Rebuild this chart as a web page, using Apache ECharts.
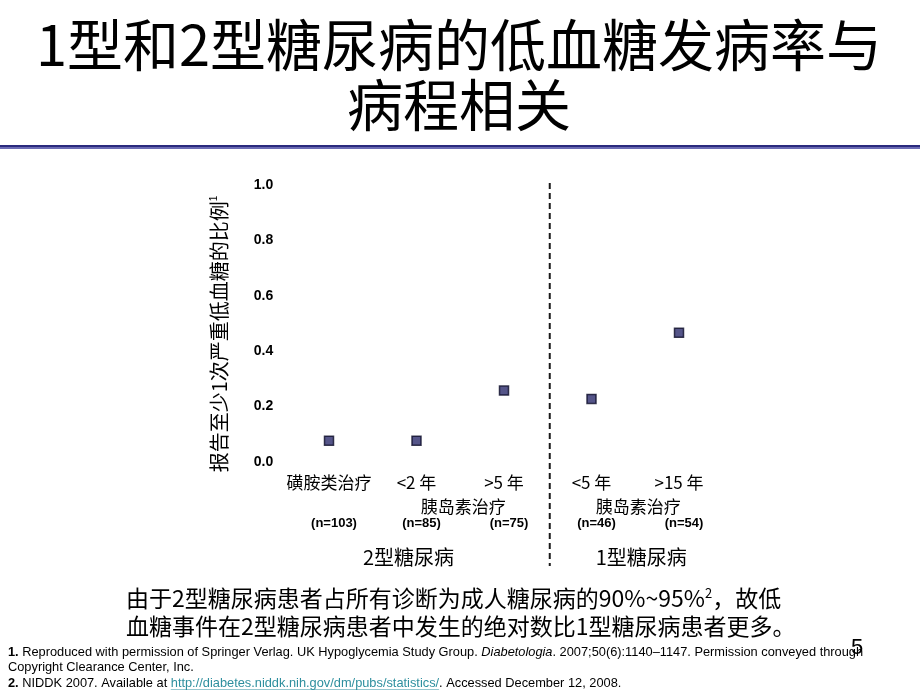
<!DOCTYPE html>
<html>
<head>
<meta charset="utf-8">
<script src="https://cdn.jsdelivr.net/npm/echarts@6/dist/echarts.min.js"></script>
<style>
html,body{margin:0;padding:0;background:#fff;}
#chart{width:920px;height:690px;}
</style>
</head>
<body>
<div id="chart"></div>
<script>
// ---- data ----
const categories = ['磺胺类治疗', '<2 年', '>5 年', '<5 年', '>15 年'];
const values = [0.076, 0.076, 0.257, 0.227, 0.466];
const sampleSizes = ['(n=103)', '(n=85)', '(n=75)', '(n=46)', '(n=54)'];
const treatmentLabels = ['胰岛素治疗', '胰岛素治疗'];
const treatmentSpans = [[1, 2], [3, 4]];
const typeLabels = ['2型糖尿病', '1型糖尿病'];
const typeSpans = [[0, 2], [3, 4]];
const dividerAfter = 2; // divider between category 2 and 3
const yAxisTitle = '报告至少1次严重低血糖的比例';

const CJK = '"Noto Sans CJK SC", "Noto Sans", sans-serif';
const LAT = '"Liberation Sans", Arial, sans-serif';

const chart = echarts.init(document.getElementById('chart'), null, {renderer: 'canvas'});

const option = {
  backgroundColor: '#ffffff',
  animation: false,
  title: {
    text: '1型和2型糖尿病的低血糖发病率与\n病程相关',
    left: 454,
    top: 10,
    textAlign: 'center',
    textStyle: {fontFamily: CJK, fontSize: 56, fontWeight: 'normal', color: '#000', lineHeight: 60}
  },
  grid: {left: 285.25, width: 437.5, top: 185, height: 276.7},
  xAxis: {
    type: 'category',
    data: categories,
    boundaryGap: true,
    axisLine: {show: false},
    axisTick: {show: false},
    splitLine: {show: false},
    axisLabel: {
      interval: 0,
      margin: 12,
      fontFamily: CJK, fontSize: 17, color: '#000'
    }
  },
  yAxis: {
    type: 'value',
    min: 0, max: 1, interval: 0.2,
    axisLine: {show: false},
    axisTick: {show: false},
    splitLine: {show: false},
    axisLabel: {
      margin: 12,
      formatter: v => v.toFixed(1),
      fontFamily: LAT, fontSize: 14, fontWeight: 'bold', color: '#000'
    }
  },
  series: [{
    type: 'scatter',
    data: values,
    symbol: 'rect',
    symbolSize: 9,
    itemStyle: {color: '#2a2a6c', borderColor: '#0c0c28', borderWidth: 1.5}
  }]
};
chart.setOption(option);

function px(i) { return chart.convertToPixel({xAxisIndex: 0}, i); }

const graphics = [];
// blue rule under title
graphics.push({type: 'rect', shape: {x: 0, y: 145, width: 920, height: 2}, style: {fill: '#2a2a7e'}});
graphics.push({type: 'rect', shape: {x: 0, y: 147, width: 920, height: 2}, style: {fill: '#6b6bb4'}});

// divider
const divX = (px(dividerAfter) + px(dividerAfter + 1)) / 2 + 2;
graphics.push({type: 'line', shape: {x1: divX, y1: 183, x2: divX, y2: 566},
  style: {stroke: '#1a1a1a', lineWidth: 2, lineDash: [6, 4]}});

// sample sizes
sampleSizes.forEach((s, i) => {
  graphics.push({type: 'text', x: px(i) + 5, y: 523, style: {text: s, font: 'bold 13px ' + LAT, fill: '#000', align: 'center', verticalAlign: 'middle'}});
});

// treatment labels
treatmentLabels.forEach((t, k) => {
  const cx = (px(treatmentSpans[k][0]) + px(treatmentSpans[k][1])) / 2 + 3;
  graphics.push({type: 'text', x: cx, y: 507, style: {text: t, font: '17px ' + CJK, fill: '#000', align: 'center', verticalAlign: 'middle'}});
});
// diabetes type labels
typeLabels.forEach((t, k) => {
  const cx = (px(typeSpans[k][0]) + px(typeSpans[k][1])) / 2 + (k === 0 ? -8 : 6);
  graphics.push({type: 'text', x: cx, y: 557, style: {text: t, font: '20px ' + CJK, fill: '#000', align: 'center', verticalAlign: 'middle'}});
});

// y axis title (rotated)
graphics.push({type: 'text', x: 219, y: 334, rotation: Math.PI / 2,
  style: {text: yAxisTitle + '{s|1}', font: '20px ' + CJK, fill: '#000', align: 'center', verticalAlign: 'middle',
    rich: {s: {fontSize: 10, fontFamily: LAT, fill: '#000', verticalAlign: 'top', padding: [0, 0, 9, 0]}}}});

// bottom statement
graphics.push({type: 'text', x: 126, y: 598,
  style: {text: '由于2型糖尿病患者占所有诊断为成人糖尿病的90%~95%{s|2}，故低', font: '23px ' + CJK, fill: '#000', verticalAlign: 'middle',
    rich: {s: {fontSize: 13, fontFamily: CJK, fill: '#000', verticalAlign: 'top', padding: [0, 0, 10, 0]}}}});
graphics.push({type: 'text', x: 126, y: 626,
  style: {text: '血糖事件在2型糖尿病患者中发生的绝对数比1型糖尿病患者更多。', font: '23px ' + CJK, fill: '#000', verticalAlign: 'middle'}});

// page number
graphics.push({type: 'text', x: 851, y: 648, style: {text: '5', font: '22px ' + LAT, fill: '#000', verticalAlign: 'middle'}});

// footnotes
const fnRich = {
  b: {fontWeight: 'bold', fontSize: 13, fontFamily: LAT, fill: '#000'},
  i: {fontStyle: 'italic', fontSize: 13, fontFamily: LAT, fill: '#000'},
  l: {fontSize: 13, fontFamily: LAT, fill: '#2e8f9e'}
};
const fnScale = 0.985;
graphics.push({type: 'text', x: 8, y: 652, scaleX: fnScale,
  style: {text: '{b|1.} Reproduced with permission of Springer Verlag. UK Hypoglycemia Study Group. {i|Diabetologia}. 2007;50(6):1140–1147. Permission conveyed through',
    font: '13px ' + LAT, fill: '#000', verticalAlign: 'middle', rich: fnRich}});
graphics.push({type: 'text', x: 8, y: 667, scaleX: fnScale,
  style: {text: 'Copyright Clearance Center, Inc.', font: '13px ' + LAT, fill: '#000', verticalAlign: 'middle'}});
const fn2 = {type: 'text', x: 8, y: 683, scaleX: fnScale,
  style: {text: '{b|2.} NIDDK 2007. Available at {l|http://diabetes.niddk.nih.gov/dm/pubs/statistics/}. Accessed December 12, 2008.',
    font: '13px ' + LAT, fill: '#000', verticalAlign: 'middle', rich: fnRich}};
graphics.push(fn2);

// link underline: measure text widths
const ctx = document.createElement('canvas').getContext('2d');
ctx.font = 'bold 13px ' + LAT;
const wB = ctx.measureText('2.').width;
ctx.font = '13px ' + LAT;
const wPre = ctx.measureText(' NIDDK 2007. Available at ').width;
const wLink = ctx.measureText('http://diabetes.niddk.nih.gov/dm/pubs/statistics/').width;
const ux1 = 8 + (wB + wPre) * fnScale;
const ux2 = ux1 + wLink * fnScale;
graphics.push({type: 'line', shape: {x1: ux1, y1: 690, x2: ux2, y2: 690}, style: {stroke: '#2e8f9e', lineWidth: 1}});

chart.setOption({graphic: graphics});
</script>
</body>
</html>
